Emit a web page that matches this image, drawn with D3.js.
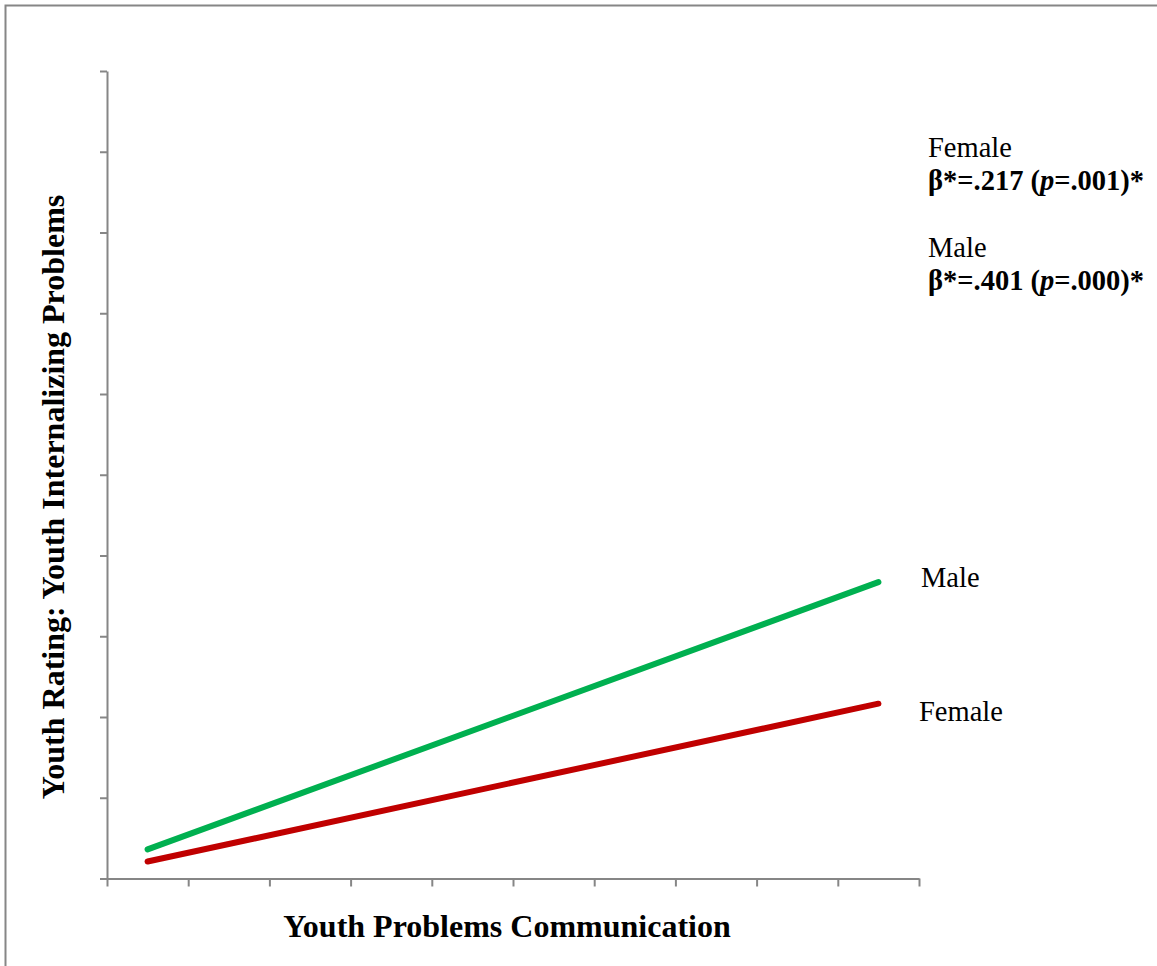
<!DOCTYPE html>
<html>
<head>
<meta charset="utf-8">
<script src="https://cdn.jsdelivr.net/npm/d3@7"></script>
<style>
  body { margin: 0; background: #fff; }
  text { font-family: "Liberation Serif", "Times New Roman", serif; fill: #000; }
</style>
</head>
<body>
<svg width="1157" height="966"></svg>
<script>
const width = 1157;
const height = 966;

// communication level (low -> high) on a 0..10 category axis
const xPoints = [0.5, 9.5];
const maleValues = [0.36, 3.67];
const femaleValues = [0.21, 2.165];
const seriesNames = ['Male', 'Female'];
const seriesColors = ['#00b050', '#c00000'];
const betaLines = [
  {group: 'Female', beta: '.217', p: '.001'},
  {group: 'Male', beta: '.401', p: '.000'}
];

const svg = d3.select('svg');

// outer frame
svg.append('rect')
  .attr('x', 5.5).attr('y', 5.5)
  .attr('width', width + 20).attr('height', height + 20)
  .attr('fill', 'none')
  .attr('stroke', '#868686')
  .attr('stroke-width', 2);

const xScale = d3.scaleLinear().domain([0, 10]).range([107, 919]);
const yScale = d3.scaleLinear().domain([0, 10]).range([878.5, 71]);

const yAxis = svg.append('g')
  .attr('transform', `translate(${xScale(0)},0)`)
  .call(d3.axisLeft(yScale).tickValues(d3.range(0, 11)).tickFormat('').tickSize(7).tickSizeOuter(0));

const xAxis = svg.append('g')
  .attr('transform', `translate(0,${yScale(0)})`)
  .call(d3.axisBottom(xScale).tickValues(d3.range(0, 11)).tickFormat('').tickSize(8).tickSizeOuter(0));

svg.selectAll('.domain, .tick line')
  .attr('stroke', '#868686')
  .attr('stroke-width', 2);

const line = d3.line()
  .x((d, i) => xScale(xPoints[i]))
  .y(d => yScale(d));

const series = [maleValues, femaleValues];

svg.selectAll('path.series')
  .data(series)
  .enter()
  .append('path')
  .attr('class', 'series')
  .attr('d', d => line(d))
  .attr('fill', 'none')
  .attr('stroke', (d, i) => seriesColors[i])
  .attr('stroke-width', 6)
  .attr('stroke-linecap', 'round');

// end labels
svg.append('text')
  .attr('x', 921).attr('y', yScale(maleValues[1]) + 5)
  .attr('font-size', 28.5)
  .text(seriesNames[0]);

svg.append('text')
  .attr('x', 919).attr('y', yScale(femaleValues[1]) + 17)
  .attr('font-size', 28.5)
  .text(seriesNames[1]);

// beta annotations
betaLines.forEach((b, i) => {
  const y0 = 157 + i * 100;
  svg.append('text')
    .attr('x', 928).attr('y', y0)
    .attr('font-size', 28.5)
    .text(b.group);
  const t = svg.append('text')
    .attr('x', 928).attr('y', y0 + 33)
    .attr('font-size', 28.5)
    .attr('font-weight', 'bold');
  t.append('tspan').text(`β*=${b.beta} (`);
  t.append('tspan').attr('font-style', 'italic').text('p');
  t.append('tspan').text(`=${b.p})*`);
});

// axis titles
svg.append('text')
  .attr('x', 507).attr('y', 937)
  .attr('text-anchor', 'middle')
  .attr('font-size', 32)
  .attr('font-weight', 'bold')
  .text('Youth Problems Communication');

svg.append('text')
  .attr('transform', 'translate(64,497) rotate(-90)')
  .attr('text-anchor', 'middle')
  .attr('font-size', 32)
  .attr('font-weight', 'bold')
  .text('Youth Rating: Youth Internalizing Problems');
</script>
</body>
</html>
